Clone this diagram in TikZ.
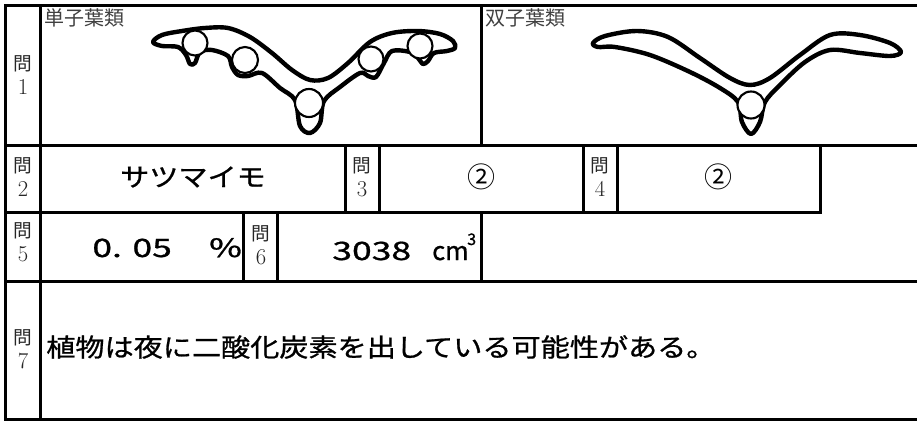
\documentclass[tikz,border=0pt]{standalone}
\usepackage{fontspec}
\newfontfamily\jp{Noto Sans CJK JP}
\newfontfamily\jpb[FakeBold=0.8]{Noto Sans CJK JP}
\newcommand{\qlab}[1]{{\jp 問}\\{\fontsize{17pt}{18pt}\selectfont #1}}

\begin{document}
\begin{tikzpicture}[x=0.75pt, y=-0.75pt,
    frame/.style={line width=2.25pt, line cap=rect},
    leaf/.style={line width=3.3pt, line join=round},
    bundle/.style={line width=1.6pt, fill=white},
    qlabel/.style={align=center, inner sep=0pt, text=black!85, font=\fontsize{14pt}{18pt}\selectfont},
    answer/.style={inner sep=0pt, font=\jpb\fontsize{19pt}{22pt}\selectfont, xscale=1.15},
    numans/.style={inner sep=0pt, font=\jpb\fontsize{19pt}{22pt}\selectfont, xscale=1.4}]
  \useasboundingbox (0,0) rectangle (917,421);

  % table
  \draw[frame] (5,5) -- (917,5);
  \draw[frame] (5,145) -- (917,145);
  \draw[frame] (5,212) -- (820,212);
  \draw[frame] (5,281) -- (917,281);
  \draw[frame] (5,419) -- (917,419);
  \draw[frame] (5,5) -- (5,419);
  \draw[frame] (40,5) -- (40,419);
  \draw[frame] (481,5) -- (481,145);
  \foreach \x in {345,379,583,617,820}
    \draw[frame] (\x,145) -- (\x,212);
  \foreach \x in {243,277,481}
    \draw[frame] (\x,212) -- (\x,281);

  % labels
  \node[qlabel] (q1) at (23,75) {\qlab{1}};
  \node[qlabel] (q2) at (23,177) {\qlab{2}};
  \node[qlabel] (q3) at (362,177) {\qlab{3}};
  \node[qlabel] (q4) at (600,177) {\qlab{4}};
  \node[qlabel] (q5) at (23,242) {\qlab{5}};
  \node[qlabel] (q6) at (261,245) {\qlab{6}};
  \node[qlabel] (q7) at (23,349) {\qlab{7}};

  \node[anchor=base west, inner sep=0pt, text=black!75, font=\jp\fontsize{15pt}{15pt}\selectfont] (mono) at (44,25) {単子葉類};
  \node[anchor=base west, inner sep=0pt, text=black!75, font=\jp\fontsize{15pt}{15pt}\selectfont] (dico) at (485,25) {双子葉類};

  % monocot leaf
  \draw[leaf] plot[smooth cycle, tension=0.55] coordinates {
    (153,42) (162,35) (182,31) (205,28) (228,28) (250,37) (272,53)
    (292,70) (310,80) (328,78) (348,63) (370,42) (392,33) (418,31)
    (440,34) (453,41) (455,48) (447,51) (434,53) (428,61) (423,64)
    (418,58) (410,52) (392,51) (384,63) (376,77) (368,76) (360,73)
    (340,87) (324,101) (320,123) (310,133) (300,126) (295,100)
    (280,88) (262,73) (248,76) (238,75) (232,67) (228,56) (212,50)
    (200,52) (195,63) (190,64) (186,55) (178,47) (162,46)};
  \foreach \cx/\cy/\r in {195/43/12.5, 245/60/13, 309/103/14, 371/59/12.5, 420/46/12.5}
    \draw[bundle] (\cx,\cy) circle[radius=\r];

  % dicot leaf
  \draw[leaf] plot[smooth cycle, tension=0.55] coordinates {
    (593,43) (605,36) (637,31) (668,37) (700,58) (730,78) (750,85)
    (770,78) (800,55) (830,35) (860,35) (890,43) (901,52) (890,56)
    (860,53) (830,50) (805,62) (780,85) (765,102) (760,122) (751,134)
    (742,122) (738,102) (720,88) (690,72) (650,55) (615,47) (598,47)};
  \draw[bundle] (751,105) circle[radius=13.5];

  % answers
  \node[answer] (ans2) at (193,177) {サツマイモ};
  \node[inner sep=0pt, font=\jp\fontsize{21pt}{22pt}\selectfont] (ans3) at (481,177) {②};
  \node[inner sep=0pt, font=\jp\fontsize{21pt}{22pt}\selectfont] (ans4) at (718,177) {②};
  \node[numans, anchor=base west] (ans5) at (92,257) {0. 05\hspace{20pt}\%};
  \node[numans, anchor=base west] (ans6) at (332,260) {3038};
  \node[inner sep=0pt, anchor=base west, font=\jpb\fontsize{19pt}{22pt}\selectfont] (unit6) at (432,260) {cm};
  \node[inner sep=0pt, anchor=base west, font=\jpb\fontsize{12pt}{12pt}\selectfont] (sup6) at (467,245) {3};
  \node[answer, anchor=west] (ans7) at (46,347) {植物は夜に二酸化炭素を出している可能性がある。};
\end{tikzpicture}
\end{document}
